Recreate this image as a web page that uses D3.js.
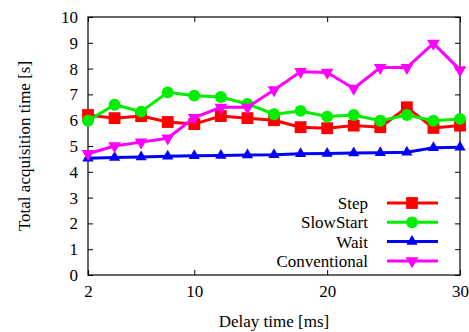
<!DOCTYPE html>
<html><head><meta charset="utf-8">
<script src="https://cdn.jsdelivr.net/npm/d3@7/dist/d3.min.js"></script>
<style>body{margin:0;background:#fff}svg{display:block}svg text{font-family:"Liberation Serif",serif !important}</style>
</head><body><svg id="c" width="469" height="332"></svg>
<script>
const delays = [2,4,6,8,10,12,14,16,18,20,22,24,26,28,30];
const step = [6.2,6.08,6.16,5.93,5.85,6.16,6.08,6.0,5.73,5.69,5.79,5.73,6.5,5.7,5.79];
const slowStart = [5.98,6.6,6.33,7.08,6.95,6.9,6.63,6.23,6.36,6.14,6.2,5.98,6.2,5.98,6.05];
const wait = [4.53,4.55,4.57,4.6,4.62,4.63,4.65,4.66,4.7,4.71,4.73,4.74,4.76,4.93,4.95];
const conventional = [4.7,5.0,5.15,5.3,6.1,6.5,6.5,7.17,7.88,7.85,7.23,8.04,8.04,8.98,7.95];
const xTicks = [2,10,20,30];
const yTicks = [0,1,2,3,4,5,6,7,8,9,10];
const seriesNames = ["Step","SlowStart","Wait","Conventional"];
const seriesColors = ["#ff0000","#00ee00","#0000ff","#ff00ff"];

const FONT = "Liberation Serif";
const svg = d3.select("#c").attr("font-family", FONT).attr("font-size", 17);
const L=88,R=460,T=17,B=275;
const x = d3.scaleLinear().domain([2,30]).range([L,R]);
const y = d3.scaleLinear().domain([0,10]).range([B,T]);

svg.append("rect").attr("x",L).attr("y",T).attr("width",R-L).attr("height",B-T)
  .attr("fill","none").attr("stroke","#000").attr("stroke-width",1.2);
const axB = d3.axisBottom(x).tickValues(xTicks).tickSize(-5).tickPadding(10).tickFormat(d3.format("d"));
const axT = d3.axisTop(x).tickValues(xTicks).tickSize(-5).tickFormat("");
const axL = d3.axisLeft(y).tickValues(yTicks).tickSize(-5).tickPadding(10).tickFormat(d3.format("d"));
const axR = d3.axisRight(y).tickValues(yTicks).tickSize(-5).tickFormat("");
function fontify(sel){sel.each(function(){this.style.setProperty("font-family",FONT,"important");this.style.setProperty("font-size","17px","important");});return sel;}
function style(g){g.attr("font-family",FONT).attr("font-size",17);g.select(".domain").remove();g.selectAll("line").attr("stroke","#000");fontify(g.selectAll("text").attr("fill","#000"));}
svg.append("g").attr("transform",`translate(0,${B})`).call(axB).call(style);
svg.append("g").attr("transform",`translate(0,${T})`).call(axT).call(style);
svg.append("g").attr("transform",`translate(${L},0)`).call(axL).call(style);
svg.append("g").attr("transform",`translate(${R},0)`).call(axR).call(style);

function txt(sel){sel.attr("font-family",FONT).attr("font-size",17).attr("fill","#000");return fontify(sel);}
txt(svg.append("text").attr("x",(L+R)/2).attr("y",327).attr("text-anchor","middle")).text("Delay time [ms]");
txt(svg.append("text").attr("transform",`translate(30,${(T+B)/2}) rotate(-90)`).attr("text-anchor","middle")).text("Total acquisition time [s]");

const allSeries = [step,slowStart,wait,conventional];
const shapes = [d3.symbolSquare,d3.symbolCircle,d3.symbolTriangle,d3.symbolTriangle];
const sizes = [140,110,55,70];
const rots = [0,0,0,180];
const line = d3.line().x((d,i)=>x(delays[i])).y(d=>y(d));

function marker(g,k,cx,cy){
  g.append("path").attr("d",d3.symbol().type(shapes[k]).size(sizes[k])())
    .attr("transform",`translate(${cx},${cy}) rotate(${rots[k]})`).attr("fill",seriesColors[k]);
}
allSeries.forEach((vals,k)=>{
  const g = svg.append("g");
  g.append("path").datum(vals).attr("d",line).attr("fill","none").attr("stroke",seriesColors[k]).attr("stroke-width",3).attr("stroke-linejoin","miter");
  vals.forEach((v,i)=>marker(g,k,x(delays[i]),y(v)));
});

const lg = svg.append("g");
seriesNames.forEach((n,k)=>{
  const yy = 203 + k*19.3;
  txt(lg.append("text").attr("x",368).attr("y",yy).attr("dy","0.35em").attr("text-anchor","end")).text(n);
  lg.append("line").attr("x1",387).attr("x2",438).attr("y1",yy).attr("y2",yy).attr("stroke",seriesColors[k]).attr("stroke-width",3);
  marker(lg,k,412,yy);
});
</script></body></html>
